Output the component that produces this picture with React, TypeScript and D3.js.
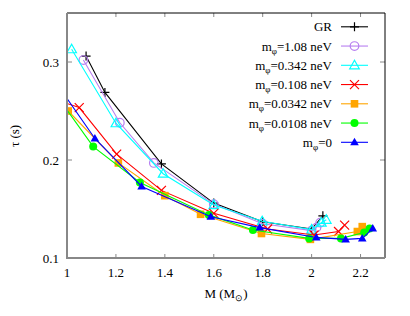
import React from "react";
import * as d3 from "d3";

type P = [number, number];

const seriesNames = ["GR", "=1.08 neV", "=0.342 neV", "=0.108 neV", "=0.0342 neV", "=0.0108 neV", "=0"];
const seriesColors = ["#000000", "#b77ff0", "#00ffff", "#ff0000", "#ffa500", "#00ff00", "#0000ff"];
const seriesMarkers = ["plus", "circle", "triangle", "cross", "square", "dot", "filltri"];

const grData: P[] = [[1.078, 0.306], [1.155, 0.269], [1.386, 0.196], [1.6, 0.156], [1.8, 0.137], [2.0, 0.1296], [2.046, 0.143]];
const m108Data: P[] = [[1.067, 0.302], [1.216, 0.238], [1.355, 0.197], [1.6, 0.155], [1.8, 0.135], [2.0, 0.128], [2.02, 0.131], [2.035, 0.136]];
const m0342Data: P[] = [[1.019, 0.313], [1.2, 0.2375], [1.393, 0.186], [1.6, 0.154], [1.798, 0.1375], [2.0, 0.129], [2.04, 0.136], [2.06, 0.139]];
const m0108Data: P[] = [[0.9, 0.266], [1.05, 0.2535], [1.203, 0.206], [1.386, 0.169], [1.6, 0.1456], [1.82, 0.1296], [2.01, 0.1235], [2.11, 0.127], [2.135, 0.1335]];
const m00342Data: P[] = [[1.005, 0.25], [1.21, 0.197], [1.4, 0.1636], [1.546, 0.1446], [1.795, 0.125], [1.995, 0.119], [2.187, 0.127], [2.207, 0.132]];
const m00108Data: P[] = [[0.98, 0.258], [1.107, 0.2137], [1.298, 0.177], [1.58, 0.144], [1.76, 0.1286], [1.99, 0.12], [2.12, 0.12], [2.215, 0.126], [2.237, 0.13]];
const m0Data: P[] = [[0.98, 0.27], [1.114, 0.222], [1.305, 0.173], [1.588, 0.142], [1.788, 0.131], [2.019, 0.121], [2.139, 0.119], [2.207, 0.12], [2.25, 0.13]];

const allData = [grData, m108Data, m0342Data, m0108Data, m00342Data, m00108Data, m0Data];

const xTicks = [1, 1.2, 1.4, 1.6, 1.8, 2, 2.2];
const yTicks = [0.1, 0.2, 0.3];

const W = 410, H = 316;
const L = 67, R = 385, T = 13, B = 258;
const FONT = "'Liberation Serif', 'Times New Roman', serif";

function Marker({ kind, x, y, color }: { kind: string; x: number; y: number; color: string }) {
  const s = 4.5;
  switch (kind) {
    case "plus":
      return <path d={`M${x - s},${y}H${x + s}M${x},${y - s}V${y + s}`} stroke={color} strokeWidth={1.2} fill="none" />;
    case "cross":
      return <path d={`M${x - s},${y - s}L${x + s},${y + s}M${x - s},${y + s}L${x + s},${y - s}`} stroke={color} strokeWidth={1.2} fill="none" />;
    case "circle":
      return <circle cx={x} cy={y} r={4.3} stroke={color} strokeWidth={1.2} fill="none" />;
    case "dot":
      return <circle cx={x} cy={y} r={4} fill={color} />;
    case "square":
      return <rect x={x - 3.8} y={y - 3.8} width={7.6} height={7.6} fill={color} />;
    case "triangle":
      return <path d={`M${x},${y - 5}L${x + 4.8},${y + 3.5}L${x - 4.8},${y + 3.5}Z`} stroke={color} strokeWidth={1.2} fill="none" />;
    case "filltri":
      return <path d={`M${x},${y - 4.5}L${x + 4.3},${y + 3}L${x - 4.3},${y + 3}Z`} fill={color} />;
  }
  return null;
}

export default function App() {
  const x = d3.scaleLinear().domain([1, 2.3]).range([L, R]);
  const y = d3.scaleLinear().domain([0.1, 0.35]).range([B, T]);
  const line = d3.line<P>().x(d => x(d[0])).y(d => y(d[1]));

  const legY0 = 26.8, legStep = 19.25;
  const legTextX = 332, legL = 341, legR = 368;

  return (
    <svg width={W} height={H} style={{ position: "absolute", left: 0, top: 0, background: "#fff" }} fontFamily={FONT}>
      <defs>
        <clipPath id="plotclip">
          <rect x={L} y={T} width={R - L} height={B - T} />
        </clipPath>
      </defs>
      {/* ticks */}
      {xTicks.map(t => (
        <g key={"x" + t}>
          <line x1={x(t)} x2={x(t)} y1={B} y2={B - 4} stroke="#888" strokeWidth={1} />
          <line x1={x(t)} x2={x(t)} y1={T} y2={T + 4} stroke="#888" strokeWidth={1} />
          <text x={x(t)} y={277} textAnchor="middle" fontSize={13}>{d3.format("")(t)}</text>
        </g>
      ))}
      {yTicks.map(t => (
        <g key={"y" + t}>
          <line x1={L} x2={L + 5} y1={y(t)} y2={y(t)} stroke="#888" strokeWidth={1} />
          <line x1={R} x2={R - 5} y1={y(t)} y2={y(t)} stroke="#888" strokeWidth={1} />
          <text x={59} y={y(t) + 4.5} textAnchor="end" fontSize={13}>{t.toFixed(1)}</text>
        </g>
      ))}
      {/* series */}
      <g clipPath="url(#plotclip)">
        {allData.map((data, i) => (
          <g key={i}>
            <path d={line(data) || ""} stroke={seriesColors[i]} strokeWidth={1.1} fill="none" />
            {data.map((d, j) => (
              <Marker key={j} kind={seriesMarkers[i]} x={x(d[0])} y={y(d[1])} color={seriesColors[i]} />
            ))}
          </g>
        ))}
      </g>
      {/* legend */}
      {seriesNames.map((name, i) => {
        const ly = legY0 + i * legStep;
        return (
          <g key={"leg" + i}>
            <text x={legTextX} y={ly + 4.5} textAnchor="end" fontSize={13}>
              {i === 0 ? (
                "GR"
              ) : (
                <>
                  <tspan>m</tspan>
                  <tspan fontSize={9} dy={3}>φ</tspan>
                  <tspan dy={-3}>{name}</tspan>
                </>
              )}
            </text>
            <line x1={legL} x2={legR} y1={ly} y2={ly} stroke={seriesColors[i]} strokeWidth={1.1} />
            <Marker kind={seriesMarkers[i]} x={(legL + legR) / 2} y={ly} color={seriesColors[i]} />
          </g>
        );
      })}
      {/* border */}
      <path d={`M${L},${T}H${R}V${B}`} stroke="#000" strokeWidth={1} fill="none" />
      <path d={`M${L},${T}V${B}H${R}`} stroke="#888" strokeWidth={2} fill="none" />
      {/* axis labels */}
      <text x={226} y={298} textAnchor="middle" fontSize={13}>
        <tspan>M (M</tspan>
        <tspan fontSize={9} dy={3}>⊙</tspan>
        <tspan dy={-3}>)</tspan>
      </text>
      <text transform="translate(19,136) rotate(-90)" textAnchor="middle" fontSize={13}>τ (s)</text>
    </svg>
  );
}
